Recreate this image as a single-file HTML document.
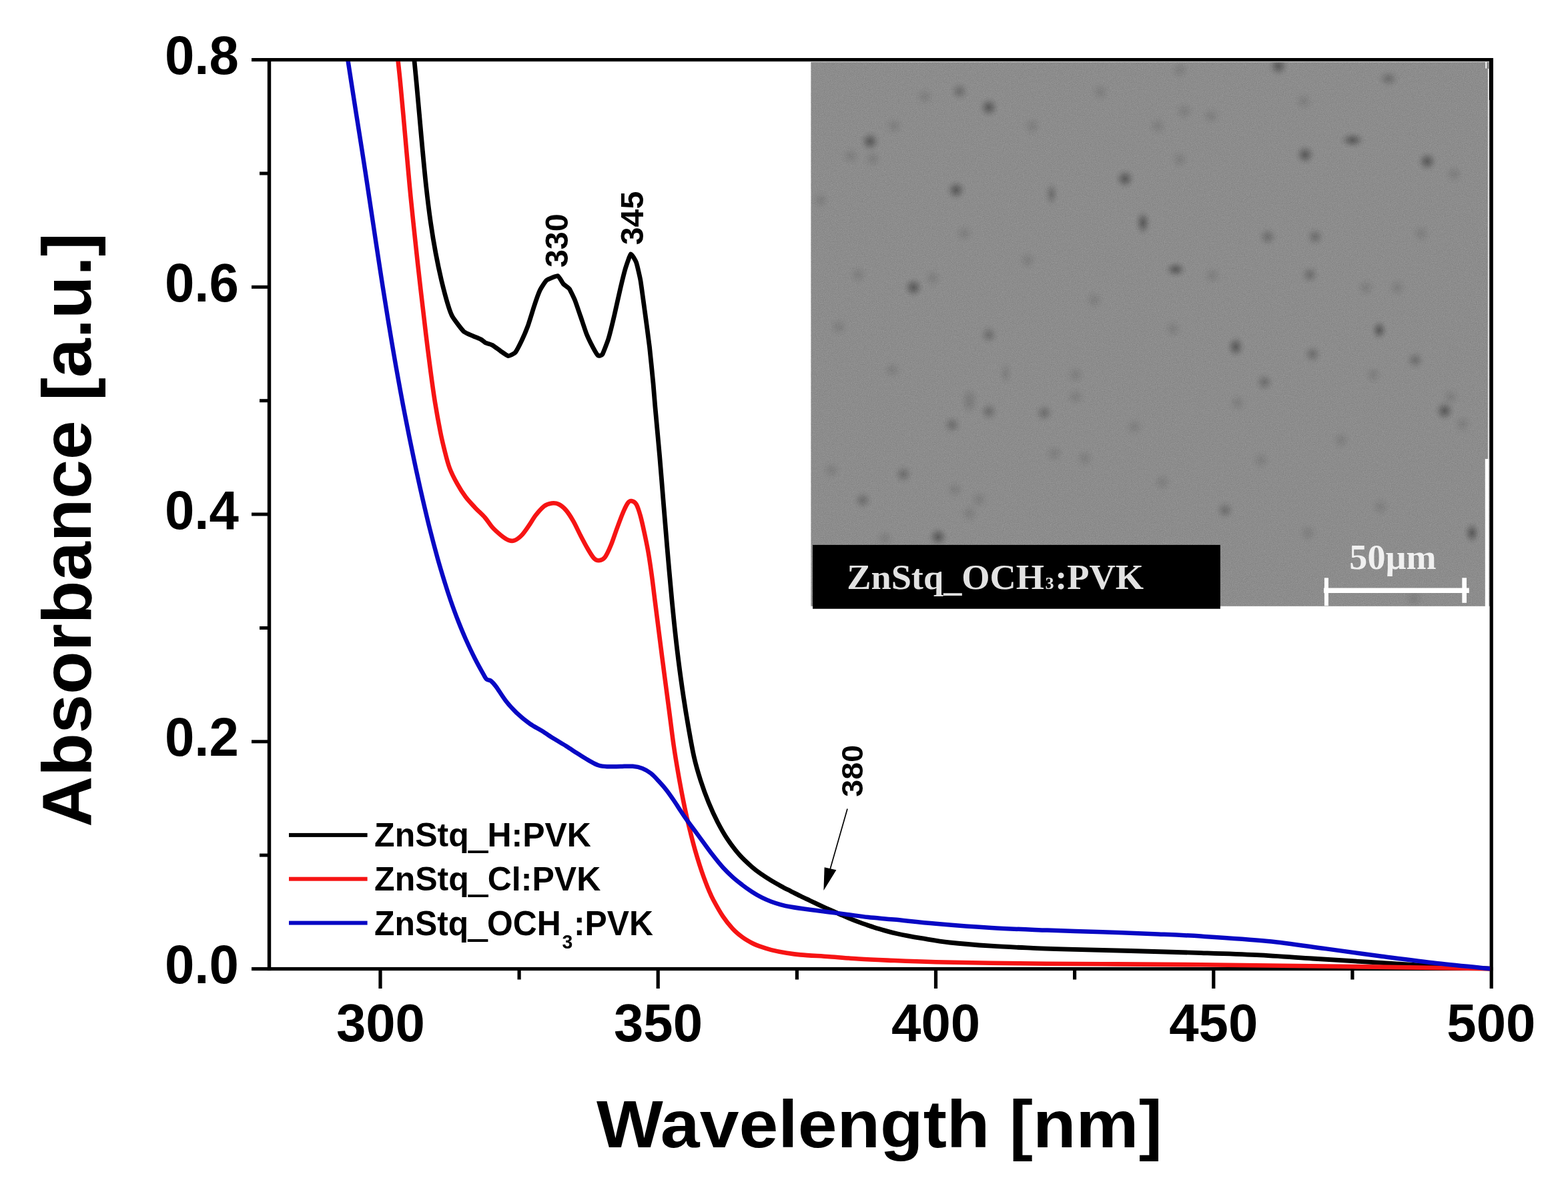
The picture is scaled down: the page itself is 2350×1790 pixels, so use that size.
<!DOCTYPE html>
<html lang="en"><head><meta charset="utf-8"><title>Absorbance vs Wavelength</title>
<style>
html,body{margin:0;padding:0;background:#fff;}
body{width:2350px;height:1790px;}
svg{display:block;}
text{font-family:"Liberation Sans",sans-serif;font-weight:bold;fill:#000;}
.serif{font-family:"Liberation Serif",serif;font-weight:bold;}
</style></head><body>
<svg width="2350" height="1790" viewBox="0 0 2350 1790">
<rect x="0" y="0" width="2350" height="1790" fill="#fff"/>
<defs>
<filter id="nz" x="0" y="0" width="100%" height="100%" color-interpolation-filters="sRGB"><feTurbulence type="fractalNoise" baseFrequency="0.9" numOctaves="2" seed="11"/><feColorMatrix type="matrix" values="1.6 0 0 0 -0.3  1.6 0 0 0 -0.3  1.6 0 0 0 -0.3  0 0 0 0 1"/></filter>
<radialGradient id="sp"><stop offset="0" stop-color="#2a2a2a" stop-opacity="1"/><stop offset="0.35" stop-color="#2a2a2a" stop-opacity="0.62"/><stop offset="0.7" stop-color="#2a2a2a" stop-opacity="0.18"/><stop offset="1" stop-color="#2a2a2a" stop-opacity="0"/></radialGradient>
<clipPath id="insclip"><rect x="1215.4" y="92.9" width="1017.6" height="815.9"/></clipPath>
</defs>
<rect x="1215.4" y="92.9" width="1017.6" height="815.9" fill="#8e8e8e"/>
<rect x="1215.4" y="92.9" width="1017.6" height="815.9" filter="url(#nz)" opacity="0.085"/>
<g clip-path="url(#insclip)">
<ellipse cx="1304" cy="212" rx="16.2" ry="16.2" fill="url(#sp)" opacity="0.50"/>
<ellipse cx="1275" cy="234" rx="16.2" ry="16.2" fill="url(#sp)" opacity="0.14"/>
<ellipse cx="1308" cy="238" rx="16.2" ry="16.2" fill="url(#sp)" opacity="0.14"/>
<ellipse cx="1340" cy="189" rx="16.2" ry="16.2" fill="url(#sp)" opacity="0.14"/>
<ellipse cx="1386" cy="145" rx="16.2" ry="16.2" fill="url(#sp)" opacity="0.14"/>
<ellipse cx="1438" cy="137" rx="15.5" ry="15.5" fill="url(#sp)" opacity="0.30"/>
<ellipse cx="1482" cy="161" rx="16.2" ry="16.2" fill="url(#sp)" opacity="0.50"/>
<ellipse cx="1433" cy="285" rx="16.2" ry="16.2" fill="url(#sp)" opacity="0.50"/>
<ellipse cx="1576" cy="291" rx="12.2" ry="20.2" fill="url(#sp)" opacity="0.30"/>
<ellipse cx="1445" cy="350" rx="16.2" ry="16.2" fill="url(#sp)" opacity="0.14"/>
<ellipse cx="1369" cy="431" rx="16.2" ry="16.2" fill="url(#sp)" opacity="0.50"/>
<ellipse cx="1286" cy="412" rx="16.2" ry="16.2" fill="url(#sp)" opacity="0.14"/>
<ellipse cx="1398" cy="417" rx="16.2" ry="16.2" fill="url(#sp)" opacity="0.14"/>
<ellipse cx="1257" cy="490" rx="16.2" ry="16.2" fill="url(#sp)" opacity="0.14"/>
<ellipse cx="1482" cy="502" rx="15.5" ry="15.5" fill="url(#sp)" opacity="0.30"/>
<ellipse cx="1337" cy="555" rx="16.2" ry="16.2" fill="url(#sp)" opacity="0.14"/>
<ellipse cx="1507" cy="560" rx="12.2" ry="18.9" fill="url(#sp)" opacity="0.14"/>
<ellipse cx="1453" cy="595" rx="16.2" ry="16.2" fill="url(#sp)" opacity="0.14"/>
<ellipse cx="1547" cy="189" rx="16.2" ry="16.2" fill="url(#sp)" opacity="0.14"/>
<ellipse cx="1916" cy="99" rx="16.2" ry="16.2" fill="url(#sp)" opacity="0.50"/>
<ellipse cx="1768" cy="105" rx="16.2" ry="16.2" fill="url(#sp)" opacity="0.14"/>
<ellipse cx="2081" cy="118" rx="17.6" ry="14.9" fill="url(#sp)" opacity="0.30"/>
<ellipse cx="1954" cy="152" rx="16.2" ry="16.2" fill="url(#sp)" opacity="0.14"/>
<ellipse cx="1815" cy="174" rx="16.2" ry="16.2" fill="url(#sp)" opacity="0.14"/>
<ellipse cx="1775" cy="167" rx="16.2" ry="16.2" fill="url(#sp)" opacity="0.14"/>
<ellipse cx="1735" cy="189" rx="16.2" ry="16.2" fill="url(#sp)" opacity="0.14"/>
<ellipse cx="2027" cy="210" rx="20.2" ry="13.5" fill="url(#sp)" opacity="0.50"/>
<ellipse cx="1956" cy="232" rx="16.2" ry="16.2" fill="url(#sp)" opacity="0.50"/>
<ellipse cx="2139" cy="242" rx="16.2" ry="16.2" fill="url(#sp)" opacity="0.50"/>
<ellipse cx="1768" cy="239" rx="16.2" ry="16.2" fill="url(#sp)" opacity="0.14"/>
<ellipse cx="1686" cy="268" rx="16.2" ry="16.2" fill="url(#sp)" opacity="0.50"/>
<ellipse cx="2179" cy="261" rx="16.2" ry="16.2" fill="url(#sp)" opacity="0.14"/>
<ellipse cx="1713" cy="334" rx="13.5" ry="20.2" fill="url(#sp)" opacity="0.50"/>
<ellipse cx="1900" cy="355" rx="15.5" ry="15.5" fill="url(#sp)" opacity="0.30"/>
<ellipse cx="1971" cy="355" rx="15.5" ry="15.5" fill="url(#sp)" opacity="0.30"/>
<ellipse cx="1762" cy="404" rx="17.6" ry="13.5" fill="url(#sp)" opacity="0.50"/>
<ellipse cx="1817" cy="413" rx="16.2" ry="16.2" fill="url(#sp)" opacity="0.14"/>
<ellipse cx="1963" cy="412" rx="15.5" ry="15.5" fill="url(#sp)" opacity="0.30"/>
<ellipse cx="2047" cy="431" rx="16.2" ry="16.2" fill="url(#sp)" opacity="0.14"/>
<ellipse cx="2094" cy="431" rx="16.2" ry="16.2" fill="url(#sp)" opacity="0.14"/>
<ellipse cx="2067" cy="495" rx="13.5" ry="16.2" fill="url(#sp)" opacity="0.50"/>
<ellipse cx="1758" cy="493" rx="16.2" ry="16.2" fill="url(#sp)" opacity="0.14"/>
<ellipse cx="1852" cy="520" rx="14.9" ry="17.6" fill="url(#sp)" opacity="0.50"/>
<ellipse cx="1967" cy="531" rx="15.5" ry="15.5" fill="url(#sp)" opacity="0.30"/>
<ellipse cx="2121" cy="540" rx="15.5" ry="15.5" fill="url(#sp)" opacity="0.30"/>
<ellipse cx="1612" cy="562" rx="16.2" ry="16.2" fill="url(#sp)" opacity="0.14"/>
<ellipse cx="1895" cy="573" rx="15.5" ry="15.5" fill="url(#sp)" opacity="0.30"/>
<ellipse cx="2058" cy="562" rx="16.2" ry="16.2" fill="url(#sp)" opacity="0.14"/>
<ellipse cx="2174" cy="595" rx="16.2" ry="16.2" fill="url(#sp)" opacity="0.14"/>
<ellipse cx="1612" cy="595" rx="16.2" ry="16.2" fill="url(#sp)" opacity="0.14"/>
<ellipse cx="1453" cy="607" rx="16.2" ry="16.2" fill="url(#sp)" opacity="0.14"/>
<ellipse cx="1482" cy="617" rx="15.5" ry="15.5" fill="url(#sp)" opacity="0.30"/>
<ellipse cx="1565" cy="619" rx="15.5" ry="15.5" fill="url(#sp)" opacity="0.30"/>
<ellipse cx="1427" cy="637" rx="15.5" ry="15.5" fill="url(#sp)" opacity="0.30"/>
<ellipse cx="1246" cy="705" rx="16.2" ry="16.2" fill="url(#sp)" opacity="0.14"/>
<ellipse cx="1354" cy="711" rx="15.5" ry="15.5" fill="url(#sp)" opacity="0.30"/>
<ellipse cx="1431" cy="734" rx="16.2" ry="16.2" fill="url(#sp)" opacity="0.14"/>
<ellipse cx="1293" cy="750" rx="15.5" ry="15.5" fill="url(#sp)" opacity="0.30"/>
<ellipse cx="1467" cy="749" rx="16.2" ry="16.2" fill="url(#sp)" opacity="0.14"/>
<ellipse cx="1453" cy="770" rx="16.2" ry="16.2" fill="url(#sp)" opacity="0.14"/>
<ellipse cx="1406" cy="805" rx="16.2" ry="16.2" fill="url(#sp)" opacity="0.50"/>
<ellipse cx="1326" cy="807" rx="16.2" ry="16.2" fill="url(#sp)" opacity="0.14"/>
<ellipse cx="1580" cy="680" rx="16.2" ry="16.2" fill="url(#sp)" opacity="0.14"/>
<ellipse cx="1855" cy="604" rx="16.2" ry="16.2" fill="url(#sp)" opacity="0.14"/>
<ellipse cx="2165" cy="616" rx="16.2" ry="16.2" fill="url(#sp)" opacity="0.50"/>
<ellipse cx="2192" cy="636" rx="16.2" ry="16.2" fill="url(#sp)" opacity="0.14"/>
<ellipse cx="1626" cy="687" rx="16.2" ry="16.2" fill="url(#sp)" opacity="0.14"/>
<ellipse cx="1836" cy="765" rx="15.5" ry="15.5" fill="url(#sp)" opacity="0.30"/>
<ellipse cx="1960" cy="799" rx="16.2" ry="16.2" fill="url(#sp)" opacity="0.14"/>
<ellipse cx="2206" cy="799" rx="13.5" ry="17.6" fill="url(#sp)" opacity="0.50"/>
<ellipse cx="2069" cy="760" rx="16.2" ry="16.2" fill="url(#sp)" opacity="0.14"/>
<ellipse cx="1742" cy="723" rx="16.2" ry="16.2" fill="url(#sp)" opacity="0.14"/>
<ellipse cx="2119" cy="897" rx="16.2" ry="16.2" fill="url(#sp)" opacity="0.14"/>
<ellipse cx="1649" cy="138" rx="16.2" ry="16.2" fill="url(#sp)" opacity="0.14"/>
<ellipse cx="1230" cy="300" rx="16.2" ry="16.2" fill="url(#sp)" opacity="0.14"/>
<ellipse cx="1890" cy="690" rx="16.2" ry="16.2" fill="url(#sp)" opacity="0.14"/>
<ellipse cx="2010" cy="660" rx="16.2" ry="16.2" fill="url(#sp)" opacity="0.14"/>
<ellipse cx="1700" cy="640" rx="16.2" ry="16.2" fill="url(#sp)" opacity="0.14"/>
<ellipse cx="2130" cy="350" rx="16.2" ry="16.2" fill="url(#sp)" opacity="0.14"/>
<ellipse cx="1640" cy="450" rx="16.2" ry="16.2" fill="url(#sp)" opacity="0.14"/>
<ellipse cx="1540" cy="390" rx="16.2" ry="16.2" fill="url(#sp)" opacity="0.14"/>
</g>
<rect x="1215.4" y="92" width="1017" height="1.1" fill="#fff"/>
<rect x="2230" y="103" width="1.3" height="806" fill="#fff"/>
<rect x="2225.8" y="688" width="5.5" height="221" fill="#fff"/>
<rect x="2226.3" y="93" width="1.8" height="9.5" fill="#fff"/>
<rect x="1218" y="816.9" width="610.9" height="95.8" fill="#000"/>
<text transform="matrix(1.0251,0,0,1.0087,1269.24,882.60)" font-size="53" class="serif" style="fill:#e2e2e2">ZnStq<tspan dy="3.5">_</tspan><tspan dy="-3.5">OCH</tspan><tspan font-size="25.5" dx="1.5">3</tspan><tspan dx="1.5">:PVK</tspan></text>
<text transform="matrix(1.0826,0,0,1.0644,2022.33,852.82)" font-size="50" class="serif" style="fill:#f0f0f0">50µm</text>
<g fill="#fff"><rect x="1984" y="881.5" width="217.8" height="7.5"/><rect x="1984.9" y="866.3" width="6" height="42"/><rect x="2191.3" y="866.3" width="6.7" height="37.5"/></g>
<g fill="#000">
<rect x="377.0" y="87" width="1860.6" height="5.2"/>
<rect x="377.0" y="1449.9" width="1860.6" height="5.2"/>
<rect x="400.8" y="87" width="5.4" height="1368.1"/>
<rect x="2232.6" y="87" width="5.2" height="1395"/>
<rect x="2232" y="87" width="5.8" height="63"/>
<rect x="389.0" y="1279.6" width="13.0" height="5"/>
<rect x="377.0" y="1109.3" width="25.0" height="5"/>
<rect x="389.0" y="938.9" width="13.0" height="5"/>
<rect x="377.0" y="768.5" width="25.0" height="5"/>
<rect x="389.0" y="598.2" width="13.0" height="5"/>
<rect x="377.0" y="427.8" width="25.0" height="5"/>
<rect x="389.0" y="257.5" width="13.0" height="5"/>
<rect x="567.4" y="1454" width="5.2" height="28.0"/>
<rect x="775.5" y="1454" width="5.2" height="14.5"/>
<rect x="983.6" y="1454" width="5.2" height="28.0"/>
<rect x="1191.8" y="1454" width="5.2" height="14.5"/>
<rect x="1399.9" y="1454" width="5.2" height="28.0"/>
<rect x="1608.0" y="1454" width="5.2" height="14.5"/>
<rect x="1816.2" y="1454" width="5.2" height="28.0"/>
<rect x="2024.3" y="1454" width="5.2" height="14.5"/>
</g>
<defs><clipPath id="plotclip"><rect x="403.5" y="92.0" width="1829.7" height="1370.5"/></clipPath></defs>
<g fill="none" stroke-linejoin="round" stroke-linecap="butt" clip-path="url(#plotclip)">
<path d="M617.8,60.0 C618.3,64.8 619.7,78.1 620.8,89.0 C621.9,99.9 623.0,111.7 624.3,125.3 C625.6,138.9 626.9,154.1 628.4,170.7 C629.9,187.3 631.6,206.9 633.3,225.0 C635.0,243.1 636.7,261.3 638.7,279.5 C640.7,297.7 643.1,317.2 645.5,334.0 C647.9,350.8 650.4,365.6 653.1,380.0 C655.8,394.4 658.7,407.9 661.7,420.7 C664.8,433.5 668.6,447.9 671.4,457.0 C672.6,461.0 676.5,472.0 678.3,475.0 C680.1,478.0 692.4,494.8 695.5,497.3 C698.6,499.8 718.0,507.4 720.4,508.6 C722.8,509.8 726.5,513.4 727.8,514.0 C729.1,514.6 736.0,516.3 737.6,517.2 C739.2,518.1 748.5,525.1 750.3,526.3 C752.1,527.5 760.1,533.4 761.7,533.6 C763.3,533.8 770.8,530.1 772.2,528.5 C773.6,526.9 779.8,514.9 781.2,512.0 C782.6,509.1 789.6,492.8 791.0,489.0 C792.4,485.2 798.9,464.0 800.2,460.0 C801.5,456.0 807.9,437.9 809.3,435.0 C810.7,432.1 817.2,421.8 819.2,420.2 C821.2,418.6 834.2,413.2 836.0,413.6 C837.8,414.0 842.9,424.2 844.2,425.6 C845.5,427.0 852.0,431.2 853.3,433.0 C854.6,434.8 860.6,447.5 861.8,450.5 C863.0,453.5 868.7,470.3 870.0,474.0 C871.3,477.7 877.6,497.0 879.0,500.5 C880.4,504.0 887.7,518.9 889.0,521.3 C890.3,523.7 895.3,532.3 896.3,533.0 C897.3,533.7 901.7,533.2 902.8,531.3 C903.9,529.4 910.6,512.1 911.9,507.7 C913.2,503.3 919.7,477.0 921.0,471.4 C922.3,465.8 928.8,436.6 930.0,431.5 C931.2,426.4 936.2,406.2 937.3,402.5 C938.4,398.8 944.2,381.5 945.4,380.8 C946.6,380.1 952.5,390.6 953.6,393.5 C954.7,396.4 959.1,415.4 960.0,420.7 C960.9,426.0 965.3,458.7 966.3,466.0 C967.3,473.3 972.6,512.4 973.5,520.4 C974.4,528.4 978.4,568.2 979.0,574.8 C979.6,581.4 981.2,602.0 981.9,610.0 C983.5,628.1 986.6,660.7 988.6,683.5 C990.6,706.3 991.9,724.3 993.8,747.0 C995.7,769.7 997.6,794.0 999.8,819.5 C1002.0,845.0 1005.0,879.0 1007.0,900.0 C1009.0,921.0 1010.0,930.2 1011.6,945.3 C1013.2,960.4 1014.8,974.1 1016.9,990.7 C1019.0,1007.3 1021.9,1028.4 1024.4,1045.0 C1026.9,1061.6 1029.2,1075.6 1031.8,1090.4 C1034.4,1105.2 1037.0,1120.7 1040.0,1134.0 C1043.0,1147.3 1046.3,1158.5 1050.0,1170.0 C1053.7,1181.5 1057.7,1192.5 1062.0,1203.0 C1066.3,1213.5 1070.9,1223.6 1075.6,1232.7 C1080.3,1241.8 1084.6,1249.5 1090.0,1257.6 C1095.4,1265.7 1102.0,1274.5 1108.2,1281.5 C1114.4,1288.5 1121.5,1294.8 1127.0,1299.7 C1132.5,1304.6 1136.7,1307.4 1141.5,1310.8 C1146.3,1314.2 1151.2,1317.3 1156.0,1320.2 C1160.8,1323.1 1165.7,1325.8 1170.5,1328.4 C1175.3,1331.0 1180.2,1333.5 1185.0,1336.0 C1189.8,1338.5 1194.8,1340.9 1199.6,1343.3 C1204.4,1345.7 1209.2,1347.9 1214.0,1350.2 C1218.8,1352.5 1223.8,1354.8 1228.6,1357.1 C1233.4,1359.3 1238.2,1361.5 1243.0,1363.7 C1247.8,1365.9 1252.8,1368.1 1257.6,1370.2 C1262.4,1372.3 1267.2,1374.3 1272.0,1376.3 C1276.8,1378.3 1281.8,1380.3 1286.6,1382.1 C1291.4,1383.9 1296.2,1385.6 1301.0,1387.3 C1305.8,1389.0 1310.8,1390.5 1315.6,1392.0 C1320.4,1393.5 1325.2,1394.8 1330.0,1396.1 C1334.8,1397.4 1339.6,1398.6 1344.6,1399.7 C1349.6,1400.8 1353.8,1401.7 1360.0,1402.9 C1366.2,1404.1 1371.1,1405.0 1381.7,1406.7 C1392.3,1408.4 1406.0,1411.1 1423.4,1413.0 C1440.8,1414.9 1465.2,1416.8 1486.0,1418.2 C1506.8,1419.6 1527.7,1420.4 1548.5,1421.3 C1569.3,1422.2 1586.7,1422.7 1611.0,1423.4 C1635.3,1424.1 1663.0,1424.6 1694.5,1425.5 C1726.0,1426.4 1768.5,1427.6 1800.0,1428.6 C1831.5,1429.6 1855.6,1430.3 1883.4,1431.7 C1911.2,1433.1 1939.0,1435.2 1966.8,1437.0 C1994.6,1438.8 2022.4,1440.5 2050.2,1442.2 C2078.0,1443.9 2103.0,1445.7 2133.6,1447.4 C2164.2,1449.1 2217.0,1451.4 2233.7,1452.2" stroke="#000" stroke-width="6.8"/>
<path d="M592.8,60.0 C593.4,64.8 595.1,78.1 596.3,89.0 C597.5,99.9 598.8,111.7 600.1,125.3 C601.4,138.9 602.8,154.1 604.3,170.7 C605.8,187.3 607.5,206.9 609.1,225.0 C610.7,243.1 612.3,261.3 614.0,279.5 C615.7,297.7 617.5,314.7 619.5,334.0 C621.5,353.3 624.0,376.0 626.1,395.3 C628.2,414.6 630.2,431.6 632.3,449.7 C634.4,467.8 636.5,485.9 638.7,504.0 C640.9,522.1 643.4,541.9 645.6,558.5 C647.8,575.1 649.7,589.1 652.1,603.9 C654.5,618.7 657.6,635.5 659.9,647.2 C662.2,659.0 663.8,665.3 666.1,674.4 C668.4,683.5 670.6,693.1 673.8,701.6 C677.0,710.1 681.2,718.0 685.2,725.2 C689.2,732.5 693.4,739.1 697.9,745.1 C702.4,751.1 707.6,756.2 712.4,761.4 C717.2,766.5 722.7,771.2 726.9,776.0 C731.1,780.8 733.9,786.0 737.8,790.4 C741.7,794.8 746.6,799.0 750.5,802.2 C754.4,805.4 758.1,808.1 761.4,809.5 C764.7,810.9 767.1,811.5 770.4,810.4 C773.7,809.3 777.7,806.6 781.3,803.0 C784.9,799.4 788.6,793.7 792.2,788.6 C795.8,783.5 799.1,777.3 803.0,772.3 C806.9,767.3 811.8,761.7 815.8,758.7 C819.8,755.7 823.1,755.0 826.7,754.5 C830.3,754.0 833.9,754.2 837.5,756.0 C841.1,757.8 844.8,760.8 848.4,765.0 C852.0,769.2 855.7,775.1 859.3,781.4 C862.9,787.7 866.6,796.1 870.2,803.0 C873.8,809.9 877.7,817.4 881.0,823.0 C884.3,828.6 887.3,833.8 890.0,836.7 C892.7,839.6 894.7,840.4 897.4,840.3 C900.1,840.1 903.4,839.6 906.4,835.8 C909.4,832.0 912.5,824.9 915.5,817.6 C918.5,810.4 921.6,800.4 924.6,792.3 C927.6,784.1 930.9,775.1 933.6,768.7 C936.3,762.4 938.8,757.2 940.9,754.2 C943.0,751.2 944.2,750.7 946.3,751.0 C948.4,751.3 951.3,752.2 953.6,756.0 C955.9,759.8 957.9,766.5 960.0,774.0 C962.1,781.5 964.3,792.2 966.3,801.3 C968.2,810.4 969.9,817.9 971.7,828.5 C973.5,839.1 975.5,852.9 977.1,864.8 C978.7,876.7 979.6,885.1 981.5,900.0 C983.4,914.9 986.1,936.3 988.4,954.4 C990.7,972.5 993.0,990.7 995.4,1008.8 C997.8,1026.9 1000.2,1045.1 1002.6,1063.2 C1005.0,1081.3 1007.3,1101.0 1009.7,1117.6 C1012.1,1134.2 1014.7,1149.3 1017.1,1163.0 C1019.5,1176.7 1022.0,1189.7 1024.0,1200.0 C1026.0,1210.3 1027.4,1216.7 1029.3,1225.0 C1031.2,1233.3 1033.2,1241.7 1035.3,1250.0 C1037.4,1258.3 1039.6,1267.0 1041.9,1275.0 C1044.2,1283.0 1046.7,1291.1 1048.9,1298.0 C1051.1,1304.9 1052.9,1310.1 1055.2,1316.3 C1057.5,1322.5 1060.2,1329.5 1062.5,1335.0 C1064.8,1340.5 1065.5,1342.5 1069.0,1349.0 C1072.5,1355.5 1078.7,1366.7 1083.5,1373.9 C1088.3,1381.1 1093.2,1387.0 1098.0,1392.2 C1102.8,1397.4 1107.7,1401.3 1112.5,1404.9 C1117.3,1408.5 1122.2,1411.2 1127.0,1413.7 C1131.8,1416.2 1136.7,1418.0 1141.5,1419.7 C1146.3,1421.4 1150.0,1422.6 1156.0,1424.1 C1162.0,1425.6 1170.5,1427.3 1177.8,1428.5 C1185.1,1429.7 1188.7,1430.5 1199.6,1431.4 C1210.5,1432.4 1228.5,1433.2 1243.0,1434.2 C1257.5,1435.2 1272.1,1436.6 1286.6,1437.5 C1301.1,1438.4 1310.7,1438.8 1330.0,1439.6 C1349.3,1440.4 1369.6,1441.4 1402.6,1442.2 C1435.5,1443.0 1486.0,1443.8 1527.7,1444.3 C1569.4,1444.8 1607.4,1445.0 1652.8,1445.3 C1698.2,1445.6 1740.7,1445.7 1800.0,1446.3 C1859.3,1446.9 1936.2,1447.8 2008.5,1448.8 C2080.8,1449.8 2196.2,1451.6 2233.7,1452.2" stroke="#f61414" stroke-width="6.6"/>
<path d="M517.1,60.0 C517.8,64.8 519.6,78.1 521.2,89.0 C522.8,99.9 524.7,111.7 526.8,125.3 C528.9,138.9 531.3,154.1 533.9,170.7 C536.5,187.3 539.9,208.4 542.5,225.0 C545.1,241.6 547.2,255.3 549.5,270.4 C551.8,285.5 553.9,299.9 556.3,315.7 C558.7,331.5 561.5,350.1 563.7,365.0 C566.0,379.9 568.1,393.9 569.8,405.0 C571.5,416.1 572.0,419.6 573.9,431.6 C575.8,443.6 578.5,460.4 581.2,477.0 C583.9,493.6 587.2,513.2 590.3,531.3 C593.4,549.4 597.3,570.9 600.0,585.7 C602.7,600.5 604.2,608.2 606.5,620.0 C608.8,631.8 610.9,642.7 613.7,656.3 C616.5,669.9 619.9,686.5 623.1,701.6 C626.4,716.7 629.7,731.9 633.2,747.0 C636.7,762.1 640.2,777.2 644.0,792.3 C647.8,807.4 652.2,824.0 656.0,837.6 C659.8,851.2 663.6,863.5 666.8,873.9 C670.0,884.3 672.0,890.5 675.3,900.0 C678.6,909.5 682.8,921.1 686.6,930.8 C690.4,940.5 693.7,948.6 697.9,958.0 C702.1,967.4 707.0,977.9 711.6,987.0 C716.2,996.1 722.4,1007.1 725.4,1012.4 C728.4,1017.7 727.9,1017.2 729.6,1018.6 C731.3,1020.0 733.3,1018.8 735.6,1020.6 C737.9,1022.4 739.7,1024.2 743.4,1029.2 C747.1,1034.2 752.8,1043.9 757.9,1050.5 C763.0,1057.1 768.2,1062.8 774.2,1068.6 C780.2,1074.3 787.8,1080.5 794.1,1085.0 C800.5,1089.5 806.2,1092.0 812.3,1095.8 C818.3,1099.6 824.4,1103.8 830.4,1107.6 C836.4,1111.4 842.5,1114.7 848.5,1118.5 C854.5,1122.3 861.0,1126.7 866.7,1130.3 C872.5,1133.9 877.9,1137.4 883.0,1140.3 C888.1,1143.2 892.7,1146.0 897.5,1147.5 C902.3,1149.0 906.6,1149.0 912.0,1149.3 C917.4,1149.5 924.1,1149.1 930.1,1149.0 C936.1,1148.9 942.8,1148.3 948.3,1148.8 C953.8,1149.3 958.3,1150.2 962.8,1152.0 C967.3,1153.8 971.2,1156.0 975.4,1159.3 C979.6,1162.6 984.2,1167.8 988.1,1172.0 C992.0,1176.2 995.4,1180.0 999.0,1184.7 C1002.6,1189.4 1005.2,1193.1 1009.9,1200.0 C1014.6,1206.9 1021.1,1217.5 1027.0,1225.9 C1032.9,1234.3 1038.4,1241.4 1045.2,1250.6 C1052.0,1259.8 1061.2,1272.8 1067.6,1281.1 C1074.0,1289.4 1078.4,1294.9 1083.5,1300.5 C1088.6,1306.1 1093.2,1310.5 1098.0,1314.9 C1102.8,1319.3 1107.7,1323.0 1112.5,1326.7 C1117.3,1330.4 1122.2,1333.8 1127.0,1336.9 C1131.8,1340.0 1136.7,1342.9 1141.5,1345.4 C1146.3,1347.9 1151.2,1349.9 1156.0,1351.7 C1160.8,1353.5 1165.7,1355.0 1170.5,1356.3 C1175.3,1357.6 1177.8,1358.2 1185.0,1359.5 C1192.2,1360.8 1204.3,1362.5 1214.0,1363.8 C1223.7,1365.1 1233.3,1366.2 1243.0,1367.4 C1252.7,1368.6 1262.3,1369.9 1272.0,1371.2 C1281.7,1372.5 1289.7,1373.8 1301.0,1375.0 C1312.3,1376.2 1323.1,1377.0 1340.0,1378.6 C1356.9,1380.2 1378.3,1382.7 1402.6,1384.8 C1426.9,1386.9 1458.2,1389.4 1486.0,1391.0 C1513.8,1392.6 1541.6,1393.5 1569.4,1394.6 C1597.2,1395.6 1625.0,1396.3 1652.8,1397.3 C1680.6,1398.3 1711.7,1399.5 1736.2,1400.5 C1760.7,1401.5 1772.7,1401.9 1800.0,1403.6 C1827.3,1405.3 1868.7,1407.8 1900.0,1410.9 C1931.3,1414.0 1959.2,1418.6 1987.7,1422.4 C2016.2,1426.2 2043.2,1430.2 2071.0,1433.8 C2098.8,1437.4 2127.4,1441.2 2154.5,1444.3 C2181.6,1447.4 2220.5,1450.9 2233.7,1452.2" stroke="#0808c4" stroke-width="6.5"/>
</g>
<text transform="matrix(0.9972,0,0,1.0248,246.91,111.29)" font-size="80">0.8</text>
<text transform="matrix(0.9972,0,0,1.0248,246.91,452.01)" font-size="80">0.6</text>
<text transform="matrix(0.9972,0,0,1.0248,246.91,792.73)" font-size="80">0.4</text>
<text transform="matrix(0.9972,0,0,1.0248,246.91,1133.45)" font-size="80">0.2</text>
<text transform="matrix(0.9972,0,0,1.0248,246.91,1474.17)" font-size="80">0.0</text>
<text transform="matrix(0.9969,0,0,1.0053,503.91,1560.59)" font-size="80">300</text>
<text transform="matrix(0.9969,0,0,1.0053,920.01,1560.59)" font-size="80">350</text>
<text transform="matrix(0.9969,0,0,1.0053,1336.11,1560.59)" font-size="80">400</text>
<text transform="matrix(0.9969,0,0,1.0053,1752.21,1560.59)" font-size="80">450</text>
<text transform="matrix(0.9969,0,0,1.0053,2168.31,1560.59)" font-size="80">500</text>
<text transform="matrix(1.0168,0,0,0.9610,894.00,1720.46)" font-size="104">Wavelength [nm]</text>
<text transform="matrix(0,-1.0144,1.0010,0,136.28,1240.04)" font-size="104">Absorbance [a.u.]</text>
<rect x="433" y="1248.9" width="117.6" height="6" fill="#000"/>
<rect x="433" y="1314.7" width="117.6" height="6" fill="#f61414"/>
<rect x="433" y="1380.6" width="117.6" height="6" fill="#0808c4"/>
<text transform="matrix(0.9997,0,0,1.0088,561.10,1269.31)" font-size="50">ZnStq<tspan dy="2.8" stroke="#000" stroke-width="2">_</tspan><tspan dy="-2.8">H:PVK</tspan></text>
<text transform="matrix(1.0012,0,0,0.9871,561.10,1335.34)" font-size="50">ZnStq<tspan dy="2.8" stroke="#000" stroke-width="2">_</tspan><tspan dy="-2.8">Cl:PVK</tspan></text>
<text transform="matrix(0.9966,0,0,1.0400,561.11,1402.00)" font-size="50">ZnStq<tspan dy="2.8" stroke="#000" stroke-width="2">_</tspan><tspan dy="-2.8">OCH</tspan><tspan font-size="28.5" dy="19.6" dx="2">3</tspan><tspan dy="-19.6" dx="1.5">:PVK</tspan></text>
<text transform="matrix(0,-1.0104,0.9971,0,851.30,401.11)" font-size="48">330</text>
<text transform="matrix(0,-1.0039,0.9824,0,964.41,367.20)" font-size="48">345</text>
<text transform="matrix(0,-1.0389,0.9812,0,1293.11,1194.74)" font-size="45">380</text>
<line x1="1270" y1="1212.6" x2="1243" y2="1307" stroke="#000" stroke-width="1.7"/>
<polygon points="1234.4,1335.1 1235.6,1300.2 1253.4,1304.2" fill="#000"/>
</svg>
</body></html>
